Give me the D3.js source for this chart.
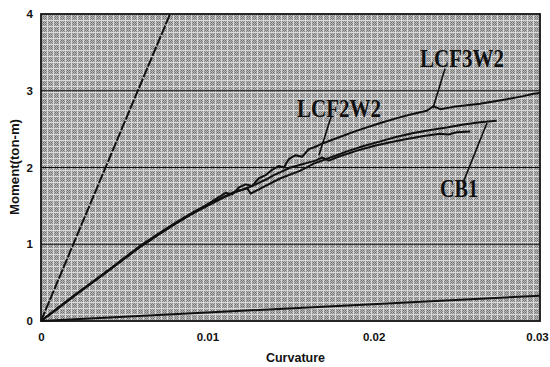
<!DOCTYPE html>
<html>
<head>
<meta charset="utf-8">
<script src="https://cdn.jsdelivr.net/npm/d3@7"></script>
<style>
	body { margin: 0; background: #fff; }
	.tick text { font-family: "Liberation Sans", Arial, sans-serif; font-weight: bold; font-size: 11.5px; fill: #111; }
	.axis path { display: none; }
	.curve { fill: none; stroke: #111; stroke-width: 2; stroke-linejoin: round; }
	.label { font-family: "Liberation Serif", "DejaVu Serif", serif; font-weight: bold; font-size: 25px; fill: #111; }
	.title { font-family: "Liberation Sans", Arial, sans-serif; font-weight: bold; fill: #111; }
</style>
</head>
<body>
<div id="picture"></div>
<script>
// ticks
const curvatureTicks = [0, 0.01, 0.02, 0.03]
	, momentTicks    = [0, 1, 2, 3, 4]
	, gridMoments    = [1, 2, 3];

// series: [curvature, moment]
const lcf3w2 = [
	[0, 0], [0.001, 0.17], [0.002, 0.335], [0.003, 0.495], [0.004, 0.655], [0.005, 0.82],
	[0.006, 0.985], [0.007, 1.13], [0.008, 1.27], [0.009, 1.40], [0.010, 1.52], [0.0106, 1.60],
	[0.0111, 1.67], [0.0115, 1.65], [0.0119, 1.74], [0.0123, 1.78], [0.0127, 1.76], [0.0131, 1.86],
	[0.0135, 1.90], [0.0139, 1.97], [0.0143, 2.02], [0.0146, 2.00], [0.0149, 2.11], [0.0153, 2.16],
	[0.0157, 2.14], [0.0161, 2.24], [0.0165, 2.27], [0.0170, 2.32], [0.0180, 2.40], [0.0190, 2.48],
	[0.0204, 2.58], [0.0215, 2.65], [0.0224, 2.70], [0.0232, 2.74], [0.0236, 2.80], [0.0240, 2.76],
	[0.0248, 2.79], [0.0256, 2.81], [0.0264, 2.83], [0.0272, 2.86], [0.0280, 2.89], [0.0290, 2.93],
	[0.0296, 2.96], [0.0300, 2.97]
];
const lcf2w2 = [
	[0, 0], [0.001, 0.165], [0.002, 0.33], [0.003, 0.49], [0.004, 0.65], [0.005, 0.815],
	[0.006, 0.975], [0.007, 1.12], [0.008, 1.26], [0.009, 1.39], [0.010, 1.51], [0.011, 1.62],
	[0.0116, 1.68], [0.0121, 1.71], [0.0126, 1.75], [0.0131, 1.80], [0.0135, 1.84], [0.0140, 1.90],
	[0.0145, 1.95], [0.0150, 2.00], [0.0155, 2.03], [0.0160, 2.06], [0.0165, 2.09], [0.0169, 2.13],
	[0.0173, 2.09], [0.0180, 2.15], [0.0190, 2.22], [0.0200, 2.28], [0.0210, 2.33], [0.0220, 2.37],
	[0.0230, 2.41], [0.0240, 2.44], [0.0245, 2.43], [0.0250, 2.46], [0.0258, 2.47]
];
const cb1 = [
	[0, 0], [0.001, 0.16], [0.002, 0.325], [0.003, 0.485], [0.004, 0.645], [0.005, 0.81],
	[0.006, 0.97], [0.007, 1.115], [0.008, 1.255], [0.009, 1.385], [0.010, 1.50], [0.011, 1.61],
	[0.0118, 1.69], [0.0124, 1.73], [0.0126, 1.66], [0.0135, 1.76], [0.0144, 1.86], [0.0156, 1.96],
	[0.0164, 2.05], [0.0174, 2.13], [0.0184, 2.21], [0.0194, 2.28], [0.0204, 2.34], [0.0214, 2.40],
	[0.0224, 2.45], [0.0234, 2.49], [0.0244, 2.52], [0.0254, 2.56], [0.0264, 2.59], [0.0274, 2.61]
];
const elasticLine  = [[0, 0], [0.00776, 4]]
	, crackedLine  = [[0, 0], [0.030, 0.33]];

// labels: name, text position, leader from, leader to
const labelNames  = ["LCF3W2", "LCF2W2", "CB1"]
	, labelPos    = [[0.02279, 3.31], [0.01539, 2.66], [0.02399, 1.61]]
	, labelWidths = [84, 84, 38]
	, leaderFrom  = [[0.02429, 3.29], [0.01744, 2.66], [0.02537, 1.80]]
	, leaderTo    = [[0.02357, 2.775], [0.01671, 2.16], [0.02681, 2.58]];

const width  = 550
	, height = 367
	, margin = { top: 14, left: 41, right: 10, bottom: 46 }
	, plotW  = width - margin.left - margin.right
	, plotH  = height - margin.top - margin.bottom;

const svg = d3.select("#picture")
	.append("svg")
		.attr("width", width)
		.attr("height", height);

// halftone background
const defs = svg.append("defs");
const dots = defs.append("pattern")
	.attr("id", "dots")
	.attr("width", 2).attr("height", 2)
	.attr("patternUnits", "userSpaceOnUse");
dots.append("rect").attr("width", 2).attr("height", 2).attr("fill", "#b8b8b8");
dots.append("rect").attr("width", 1).attr("height", 1).attr("fill", "#6e6e6e");
dots.append("rect").attr("x", 1).attr("y", 1).attr("width", 1).attr("height", 1).attr("fill", "#8a8a8a");
const screen = defs.append("pattern")
	.attr("id", "screen")
	.attr("width", 6).attr("height", 6)
	.attr("patternUnits", "userSpaceOnUse");
screen.append("rect").attr("width", 6).attr("height", 6).attr("fill", "url(#dots)");
screen.append("rect").attr("width", 6).attr("height", 1).attr("fill", "#dadada");
screen.append("rect").attr("width", 1).attr("height", 6).attr("fill", "#dadada");

const g = svg.append("g")
	.attr("transform", "translate(" + margin.left + "," + margin.top + ")");

const x = d3.scaleLinear()
	.domain([0, 0.03])
	.range([0, plotW]);
const y = d3.scaleLinear()
	.domain([0, 4])
	.range([plotH, 0]);

g.append("rect")
	.attr("width", x(0.03))
	.attr("height", y(0))
	.attr("fill", "url(#screen)");

// grid
g.selectAll(".grid")
	.data(gridMoments)
	.enter().append("line")
		.attr("class", "grid")
		.attr("x1", 0)
		.attr("x2", x(0.03))
		.attr("y1", d => y(d))
		.attr("y2", d => y(d))
		.attr("stroke", "#111")
		.attr("stroke-width", 1.2);

// axes
const xAxis = g.append("g")
	.attr("class", "axis")
	.attr("transform", "translate(0," + y(0) + ")")
	.call(d3.axisBottom(x)
		.tickValues(curvatureTicks)
		.tickFormat(d => d === 0 ? "0" : d3.format(".2f")(d))
		.tickSize(0)
		.tickPadding(12));
xAxis.selectAll(".tick text")
	.filter(d => d === 0.03)
	.attr("dx", -3);
g.append("g")
	.attr("class", "axis")
	.call(d3.axisLeft(y)
		.tickValues(momentTicks)
		.tickFormat(d3.format("d"))
		.tickSize(0)
		.tickPadding(8));

// frame
g.append("rect")
	.attr("width", x(0.03))
	.attr("height", y(0))
	.attr("fill", "none")
	.attr("stroke", "#111")
	.attr("stroke-width", 1.8);

// curves
const line = d3.line()
	.x(d => x(d[0]))
	.y(d => y(d[1]));

g.append("path")
	.datum(elasticLine)
	.attr("class", "curve")
	.attr("stroke-width", 2.6)
	.attr("stroke-dasharray", "10,1.5")
	.attr("d", line);
g.append("path")
	.datum(crackedLine)
	.attr("class", "curve")
	.attr("d", line);

[cb1, lcf2w2, lcf3w2].forEach(s => {
	g.append("path")
		.datum(s)
		.attr("class", "curve")
		.attr("d", line);
});

// labels
labelNames.forEach((name, i) => {
	g.append("line")
		.attr("x1", x(leaderFrom[i][0]))
		.attr("y1", y(leaderFrom[i][1]))
		.attr("x2", x(leaderTo[i][0]))
		.attr("y2", y(leaderTo[i][1]))
		.attr("stroke", "#111")
		.attr("stroke-width", 1.6);
	g.append("text")
		.attr("class", "label")
		.attr("x", x(labelPos[i][0]))
		.attr("y", y(labelPos[i][1]))
		.attr("textLength", labelWidths[i])
		.attr("lengthAdjust", "spacingAndGlyphs")
		.text(name);
});

// titles
svg.append("text")
	.attr("class", "title")
	.attr("x", margin.left + x(0.0153))
	.attr("y", 362)
	.attr("text-anchor", "middle")
	.attr("font-size", 12.5)
	.text("Curvature");
svg.append("text")
	.attr("class", "title")
	.attr("transform", "translate(19,167) rotate(-90)")
	.attr("text-anchor", "middle")
	.attr("font-size", 12.5)
	.attr("textLength", 96)
	.attr("lengthAdjust", "spacingAndGlyphs")
	.text("Moment(ton-m)");
</script>
</body>
</html>
